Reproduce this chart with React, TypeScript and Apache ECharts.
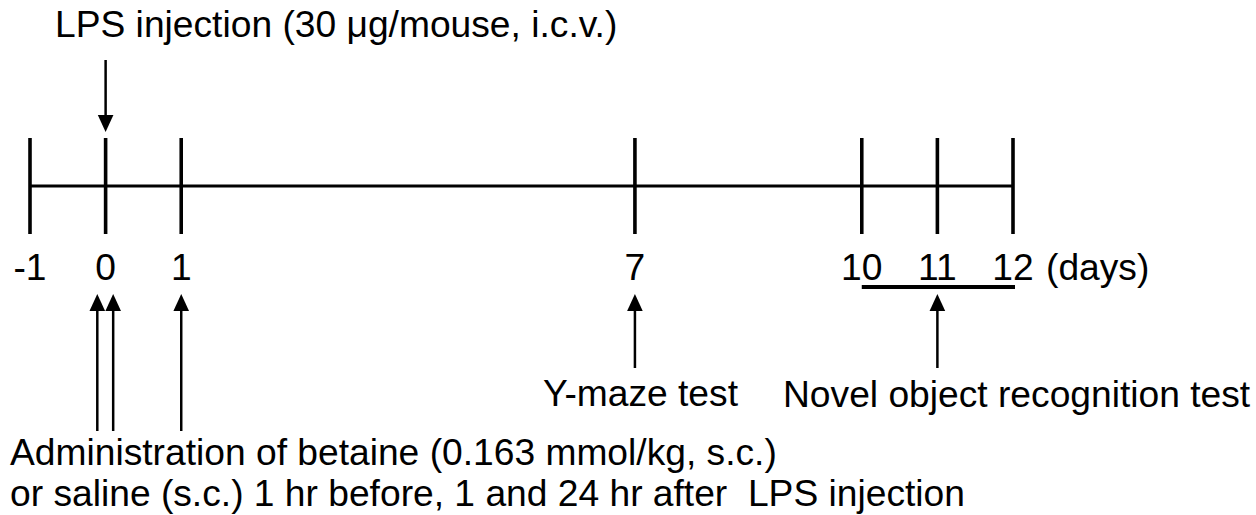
import React, { useEffect, useRef } from "react";
import * as echarts from "echarts";

// ---- data (days on the timeline) ----
const tickDays = [-1, 0, 1, 7, 10, 11, 12];
const tickLabels = ["-1", "0", "1", "7", "10", "11", "12"];
const timeUnit = "(days)";
const lpsDays = [0];
const betaineDays = [-0.11, 0.1, 1];
const testDays = [7, 11];
const norPeriod = [10, 12.1];

const lpsText = "LPS injection (30 μg/mouse, i.c.v.)";
const yMazeText = "Y-maze test";
const norText = "Novel object recognition test";
const betaineLines = [
  "Administration of betaine (0.163 mmol/kg, s.c.)",
  "or saline (s.c.) 1 hr before, 1 and 24 hr after  LPS injection",
];

// ---- layout (pixel rows, not data) ----
const W = 1256;
const H = 515;
const FONT = '37.2px "Liberation Sans", Arial, sans-serif';
const Y = {
  lpsArrowTop: 60,
  lpsArrowTip: 132,
  tickTop: 138,
  axis: 186,
  tickBot: 234,
  tickLabel: 267,
  period: 287,
  arrowTip: 294,
  betaineArrowBot: 431,
  testArrowBot: 368,
};
const HEAD_LEN = 17;
const HEAD_HALF = 7.8;

function arrow(x: number, yFrom: number, yTip: number) {
  const dir = yTip > yFrom ? 1 : -1;
  const base = yTip - dir * HEAD_LEN;
  return [
    {
      type: "line",
      shape: { x1: x, y1: yFrom, x2: x, y2: base },
      style: { stroke: "#000", lineWidth: 2.5 },
    },
    {
      type: "polygon",
      shape: {
        points: [
          [x - HEAD_HALF, base],
          [x + HEAD_HALF, base],
          [x, yTip],
        ],
      },
      style: { fill: "#000" },
    },
  ];
}

export default function App() {
  const ref = useRef<HTMLDivElement>(null);
  useEffect(() => {
    document.body.style.margin = "0";
    const chart = echarts.init(ref.current!, null, { renderer: "svg" });
    const textStyle = (text: string, x: number, y: number, align = "left") => ({
      type: "text",
      x,
      y,
      style: {
        text,
        font: FONT,
        fill: "#000",
        align,
        verticalAlign: "middle",
      },
    });
    chart.setOption({
      animation: false,
      backgroundColor: "#fff",
      grid: { left: 30, right: W - 1013, top: 0, bottom: 0 },
      xAxis: { type: "value", min: -1, max: 12, show: false },
      yAxis: { type: "value", min: 0, max: H, inverse: true, show: false },
      series: [
        {
          type: "line",
          data: [
            [tickDays[0], Y.axis],
            [tickDays[tickDays.length - 1], Y.axis],
          ],
          symbol: "none",
          lineStyle: { color: "#000", width: 3 },
          silent: true,
        },
        {
          type: "line",
          data: [
            [norPeriod[0], Y.period],
            [norPeriod[1], Y.period],
          ],
          symbol: "none",
          lineStyle: { color: "#000", width: 4 },
          silent: true,
        },
        {
          type: "custom",
          data: tickDays.map((d) => [d]),
          renderItem: (params: any, api: any) => {
            const d = api.value(0);
            const top = api.coord([d, Y.tickTop]);
            const bot = api.coord([d, Y.tickBot]);
            const lab = api.coord([d, Y.tickLabel]);
            const children: any[] = [
              {
                type: "line",
                shape: { x1: top[0], y1: top[1], x2: bot[0], y2: bot[1] },
                style: { stroke: "#000", lineWidth: 3.6 },
              },
              {
                type: "text",
                style: {
                  text: tickLabels[params.dataIndex],
                  x: lab[0],
                  y: lab[1],
                  font: FONT,
                  fill: "#000",
                  align: "center",
                  verticalAlign: "middle",
                },
              },
            ];
            if (params.dataIndex === tickDays.length - 1) {
              children.push({
                type: "text",
                style: {
                  text: timeUnit,
                  x: lab[0] + 33,
                  y: lab[1],
                  font: FONT,
                  fill: "#000",
                  align: "left",
                  verticalAlign: "middle",
                },
              });
            }
            return { type: "group", children };
          },
        },
        {
          type: "custom",
          data: lpsDays.map((d) => [d]),
          renderItem: (params: any, api: any) => {
            const d = api.value(0);
            const a = api.coord([d, Y.lpsArrowTop]);
            const b = api.coord([d, Y.lpsArrowTip]);
            return { type: "group", children: arrow(a[0], a[1], b[1]) };
          },
        },
        {
          type: "custom",
          data: betaineDays.map((d) => [d]),
          renderItem: (params: any, api: any) => {
            const d = api.value(0);
            const a = api.coord([d, Y.betaineArrowBot]);
            const b = api.coord([d, Y.arrowTip]);
            return { type: "group", children: arrow(a[0], a[1], b[1]) };
          },
        },
        {
          type: "custom",
          data: testDays.map((d) => [d]),
          renderItem: (params: any, api: any) => {
            const d = api.value(0);
            const a = api.coord([d, Y.testArrowBot]);
            const b = api.coord([d, Y.arrowTip]);
            return { type: "group", children: arrow(a[0], a[1], b[1]) };
          },
        },
      ],
      graphic: [
        textStyle(lpsText, 55, 24),
        textStyle(yMazeText, 543, 393),
        textStyle(norText, 783, 394),
        textStyle(betaineLines[0], 10, 452),
        textStyle(betaineLines[1], 10, 493),
      ],
    });
    return () => chart.dispose();
  }, []);
  return (
    <div
      ref={ref}
      style={{ position: "absolute", left: 0, top: 0, width: W, height: H }}
    />
  );
}
